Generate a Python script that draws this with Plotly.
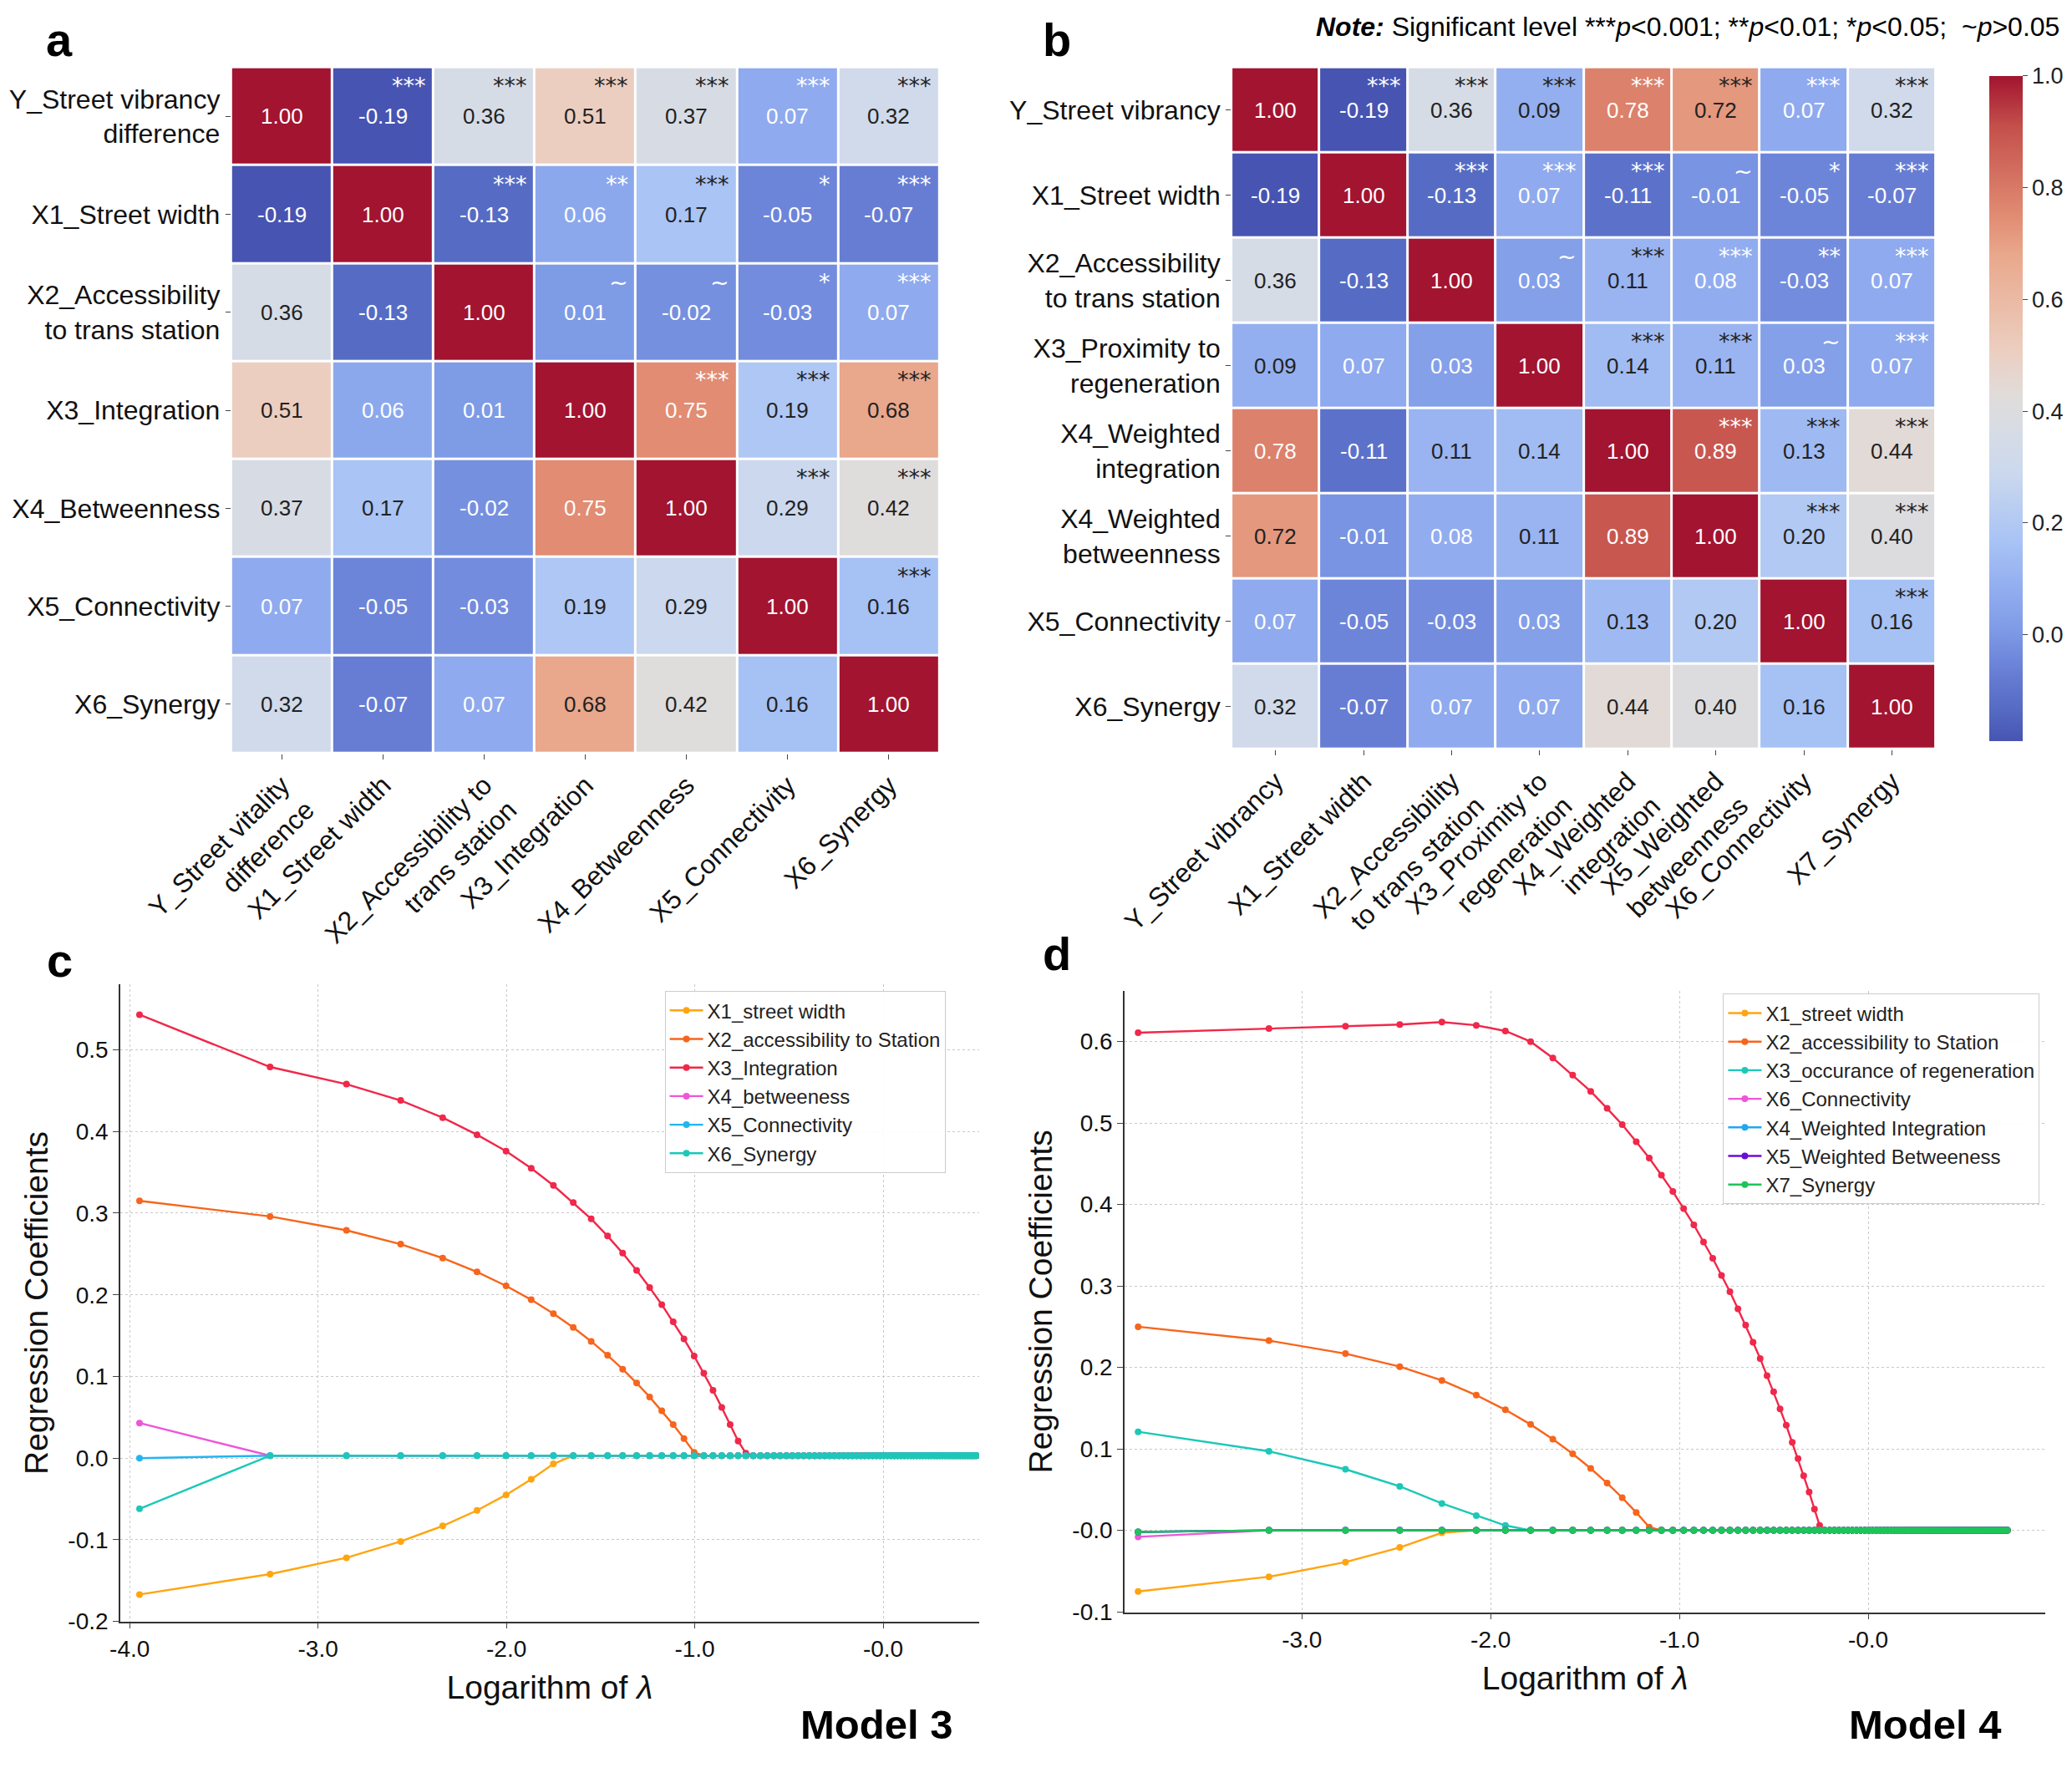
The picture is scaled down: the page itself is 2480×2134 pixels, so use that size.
import numpy as np
import plotly.graph_objects as go

# ---------------- data ----------------
a_labels_x = ["Y_Street vitality<br>difference", "X1_Street width", "X2_Accessibility to<br>trans station",
              "X3_Integration", "X4_Betweenness", "X5_Connectivity", "X6_Synergy"]
a_labels_y = ["Y_Street vibrancy<br>difference", "X1_Street width", "X2_Accessibility<br>to trans station",
              "X3_Integration", "X4_Betweenness", "X5_Connectivity", "X6_Synergy"]
a_vals = [
    [1.00, -0.19, 0.36, 0.51, 0.37, 0.07, 0.32],
    [-0.19, 1.00, -0.13, 0.06, 0.17, -0.05, -0.07],
    [0.36, -0.13, 1.00, 0.01, -0.02, -0.03, 0.07],
    [0.51, 0.06, 0.01, 1.00, 0.75, 0.19, 0.68],
    [0.37, 0.17, -0.02, 0.75, 1.00, 0.29, 0.42],
    [0.07, -0.05, -0.03, 0.19, 0.29, 1.00, 0.16],
    [0.32, -0.07, 0.07, 0.68, 0.42, 0.16, 1.00],
]
a_sig = [
    ["", "***", "***", "***", "***", "***", "***"],
    ["", "", "***", "**", "***", "*", "***"],
    ["", "", "", "~", "~", "*", "***"],
    ["", "", "", "", "***", "***", "***"],
    ["", "", "", "", "", "***", "***"],
    ["", "", "", "", "", "", "***"],
    ["", "", "", "", "", "", ""],
]
b_labels_x = ["Y_Street vibrancy", "X1_Street width", "X2_Accessibility<br>to trans station",
              "X3_Proximity to<br>regeneration", "X4_Weighted<br>integration", "X5_Weighted<br>betweenness",
              "X6_Connectivity", "X7_Synergy"]
b_labels_y = ["Y_Street vibrancy", "X1_Street width", "X2_Accessibility<br>to trans station",
              "X3_Proximity to<br>regeneration", "X4_Weighted<br>integration", "X4_Weighted<br>betweenness",
              "X5_Connectivity", "X6_Synergy"]
b_vals = [
    [1.00, -0.19, 0.36, 0.09, 0.78, 0.72, 0.07, 0.32],
    [-0.19, 1.00, -0.13, 0.07, -0.11, -0.01, -0.05, -0.07],
    [0.36, -0.13, 1.00, 0.03, 0.11, 0.08, -0.03, 0.07],
    [0.09, 0.07, 0.03, 1.00, 0.14, 0.11, 0.03, 0.07],
    [0.78, -0.11, 0.11, 0.14, 1.00, 0.89, 0.13, 0.44],
    [0.72, -0.01, 0.08, 0.11, 0.89, 1.00, 0.20, 0.40],
    [0.07, -0.05, -0.03, 0.03, 0.13, 0.20, 1.00, 0.16],
    [0.32, -0.07, 0.07, 0.07, 0.44, 0.40, 0.16, 1.00],
]
b_sig = [
    ["", "***", "***", "***", "***", "***", "***", "***"],
    ["", "", "***", "***", "***", "~", "*", "***"],
    ["", "", "", "~", "***", "***", "**", "***"],
    ["", "", "", "", "***", "***", "~", "***"],
    ["", "", "", "", "", "***", "***", "***"],
    ["", "", "", "", "", "", "***", "***"],
    ["", "", "", "", "", "", "", "***"],
    ["", "", "", "", "", "", "", ""],
]

# Lasso paths (lambda grid step and count)
c_lambda_step, c_n = 0.0193, 85
d_lambda_step, d_n = 0.0209, 100
c_names = ["X1_street width", "X2_accessibility to Station", "X3_Integration",
           "X4_betweeness", "X5_Connectivity", "X6_Synergy"]
c_colors = ["#ffa510", "#f7651c", "#f0284a", "#ee55d8", "#22b5f0", "#1cc8b8"]
c_x1 = [-0.167, -0.142, -0.122, -0.102, -0.083, -0.064, -0.045, -0.026, -0.007]
c_x2 = [0.315, 0.296, 0.279, 0.262, 0.245, 0.228, 0.211, 0.194, 0.177, 0.160, 0.143, 0.126,
        0.109, 0.092, 0.075, 0.058, 0.041, 0.024, 0.007]
c_x3 = [0.543, 0.479, 0.458, 0.438, 0.417, 0.396, 0.376, 0.355, 0.334, 0.313, 0.293, 0.272,
        0.251, 0.230, 0.209, 0.188, 0.167, 0.146, 0.125, 0.104, 0.083, 0.062, 0.041, 0.021, 0.006]
c_x4 = [0.043]
c_x5 = [0.000]
c_x6 = [-0.062]
c_tail = 0.003

d_names = ["X1_street width", "X2_accessibility to Station", "X3_occurance of regeneration",
           "X6_Connectivity", "X4_Weighted Integration", "X5_Weighted Betweeness", "X7_Synergy"]
d_colors = ["#ffa510", "#f7651c", "#1cc8b8", "#ee55d8", "#22a8f0", "#6a0dd8", "#1ec45a"]
d_x1 = [-0.075, -0.057, -0.039, -0.021, -0.003]
d_x2 = [0.250, 0.233, 0.217, 0.201, 0.184, 0.166, 0.148, 0.130, 0.112, 0.094, 0.076, 0.058,
        0.040, 0.022, 0.004]
d_x3occ = [0.121, 0.097, 0.075, 0.054, 0.033, 0.018, 0.006]
d_x6 = [-0.008]
d_x4 = [-0.002]
d_x5 = [-0.002]
d_x7 = [-0.002]
d_x3int = [0.611, 0.616, 0.619, 0.621, 0.624, 0.620, 0.613, 0.600, 0.580, 0.559, 0.539, 0.518,
           0.498, 0.477, 0.457, 0.436, 0.416, 0.395, 0.375, 0.354, 0.334, 0.313, 0.293, 0.272,
           0.252, 0.231, 0.211, 0.190, 0.170, 0.149, 0.129, 0.108, 0.088, 0.067, 0.047, 0.026, 0.006]
d_tail = 0.0

# ---------------- figure ----------------
FONT = "Liberation Sans, Arial, sans-serif"
SC = 2480 / 1568.0          # reference pixels per displayed unit
PAD = 8                     # page body margin
FW, FH = 2464, 2118
def fx(px): return (px * SC - PAD) / FW
def fy(py): return 1 - (py * SC - PAD) / FH

cmap = [
    [0.0, "rgb(71,84,178)"], [0.05, "rgb(86,108,196)"], [0.10, "rgb(103,125,212)"],
    [0.143, "rgb(118,144,224)"], [0.168, "rgb(126,155,230)"], [0.218, "rgb(143,170,238)"],
    [0.30, "rgb(168,195,245)"], [0.403, "rgb(203,216,238)"], [0.462, "rgb(214,220,230)"],
    [0.52, "rgb(224,220,218)"], [0.588, "rgb(236,206,192)"], [0.73, "rgb(233,168,140)"],
    [0.79, "rgb(225,140,115)"], [0.924, "rgb(196,80,75)"], [1.0, "rgb(162,20,48)"],
]

fig = go.Figure()
annotations = []

def add_heat(vals, sig, xa, ya, show_cb):
    n = len(vals)
    fig.add_trace(go.Heatmap(
        z=vals, x=list(range(n)), y=list(range(n)), xaxis=xa, yaxis=ya,
        colorscale=cmap, zmin=-0.19, zmax=1.0, xgap=3, ygap=3,
        showscale=show_cb, hoverinfo="skip",
        colorbar=dict(x=fx(1499), xanchor="left", y=fy(567), yanchor="bottom",
                      len=(567 - 51) * SC / FH, thickness=40, outlinewidth=0,
                      tickvals=[0, 0.2, 0.4, 0.6, 0.8, 1.0],
                      ticktext=["0.0", "0.2", "0.4", "0.6", "0.8", "1.0"],
                      ticks="outside", ticklen=6, tickfont=dict(size=27, family=FONT, color="#222")),
    ))
    for i in range(n):
        for j in range(n):
            v = vals[i][j]
            col = "white" if (v < 0.085 or v > 0.73) else "#222"
            annotations.append(dict(x=j, y=i, xref=xa, yref=ya, text=f"{v:.2f}", showarrow=False,
                                    font=dict(size=26, family=FONT, color=col)))
            if sig[i][j]:
                annotations.append(dict(x=j + 0.44, y=i - 0.46, xref=xa, yref=ya, text=sig[i][j],
                                        showarrow=False, xanchor="right", yanchor="top",
                                        font=dict(size=27, family="DejaVu Sans, sans-serif", color=col)))

add_heat(a_vals, a_sig, "x", "y", False)
add_heat(b_vals, b_sig, "x2", "y2", True)

def heat_axes(labels_x, labels_y, dx, dy, ax, ay):
    n = len(labels_x)
    xa = dict(domain=dx, range=[-0.5, n - 0.5], tickvals=list(range(n)), ticktext=labels_x,
              tickangle=-45, ticks="outside", ticklen=6, showgrid=False, zeroline=False,
              automargin=False, anchor=ay,
              tickfont=dict(size=32, family=FONT, color="#111"))
    ya = dict(domain=dy, range=[n - 0.5, -0.5], tickvals=list(range(n)), ticktext=labels_y,
              ticks="outside", ticklen=6, showgrid=False, zeroline=False,
              automargin=False, anchor=ax,
              tickfont=dict(size=32, family=FONT, color="#111"))
    return xa, ya

xa1, ya1 = heat_axes(a_labels_x, a_labels_y, [fx(175), fx(711)], [fy(570), fy(51)], "x", "y")
xa2, ya2 = heat_axes(b_labels_x, b_labels_y, [fx(932), fx(1465)], [fy(567), fy(51)], "x2", "y2")

def full(seq, n, tail):
    return list(seq) + [tail] * (n - len(seq))

lx_c = np.log(np.arange(1, c_n + 1) * c_lambda_step)
lx_d = np.log(np.arange(1, d_n + 1) * d_lambda_step)

for name, col, seq in zip(c_names, c_colors, [c_x1, c_x2, c_x3, c_x4, c_x5, c_x6]):
    fig.add_trace(go.Scatter(x=lx_c, y=full(seq, c_n, c_tail), xaxis="x3", yaxis="y3", name=name,
                             mode="lines+markers", line=dict(color=col, width=2.4),
                             marker=dict(size=8, color=col), legend="legend"))
fig.add_trace(go.Scatter(x=lx_d, y=full(d_x3int, d_n, d_tail), xaxis="x4", yaxis="y4",
                         name="X3_Integration", showlegend=False, mode="lines+markers",
                         line=dict(color="#f0284a", width=2.4), marker=dict(size=8, color="#f0284a")))
for name, col, seq in zip(d_names, d_colors, [d_x1, d_x2, d_x3occ, d_x6, d_x4, d_x5, d_x7]):
    fig.add_trace(go.Scatter(x=lx_d, y=full(seq, d_n, d_tail), xaxis="x4", yaxis="y4", name=name,
                             mode="lines+markers", line=dict(color=col, width=2.4),
                             marker=dict(size=8, color=col), legend="legend2"))

xt = [-4, -3, -2, -1, 0]
xtt = ["-4.0", "-3.0", "-2.0", "-1.0", "-0.0"]
def line_axes(dx, dy, xr, yr, yt, ytt, anchor_x, anchor_y):
    common = dict(showline=True, linecolor="#333", linewidth=1.5, ticks="outside", ticklen=7,
                  showgrid=True, gridcolor="#c8c8c8", griddash="dot", gridwidth=1, zeroline=False,
                  automargin=False, tickfont=dict(size=28, family=FONT, color="#111"))
    xa = dict(domain=dx, range=xr, tickvals=xt, ticktext=xtt, anchor=anchor_y,
              title=dict(text="Logarithm of <i>λ</i>", font=dict(size=39, family=FONT, color="#111"), standoff=18),
              **common)
    ya = dict(domain=dy, range=yr, tickvals=yt, ticktext=ytt, anchor=anchor_x,
              title=dict(text="Regression Coefficients", font=dict(size=39, family=FONT, color="#111"), standoff=12),
              **common)
    return xa, ya

c_yt = [-0.2, -0.1, 0.0, 0.1, 0.2, 0.3, 0.4, 0.5]
d_yt = [-0.1, 0.0, 0.1, 0.2, 0.3, 0.4, 0.5, 0.6]
xa3, ya3 = line_axes([fx(91), fx(741)], [fy(1227), fy(745)], [-4.05, 0.51], [-0.2, 0.58],
                     c_yt, ["-0.2", "-0.1", "0.0", "0.1", "0.2", "0.3", "0.4", "0.5"], "x3", "y3")
xa4, ya4 = line_axes([fx(851), fx(1548)], [fy(1220), fy(750)], [-3.94, 0.94], [-0.1005, 0.662],
                     d_yt, ["-0.1", "-0.0", "0.1", "0.2", "0.3", "0.4", "0.5", "0.6"], "x4", "y4")

legend_common = dict(bgcolor="rgba(255,255,255,0.9)", bordercolor="#cccccc", borderwidth=1,
                     font=dict(size=24, family=FONT, color="#222"), xanchor="left", yanchor="top",
                     itemwidth=40, tracegroupgap=0)

def paper_text(text, x, y, size, **kw):
    d = dict(text=text, x=fx(x), y=fy(y), xref="paper", yref="paper", showarrow=False,
             xanchor="center", yanchor="middle", font=dict(size=size, family=FONT, color="black"))
    d.update(kw)
    annotations.append(d)

for lbl, x, y in [("a", 45, 30), ("b", 800, 30), ("c", 45, 727), ("d", 800, 722)]:
    paper_text(f"<b>{lbl}</b>", x, y, 56)
paper_text("<b>Model 3</b>", 663, 1305, 49)
paper_text("<b>Model 4</b>", 1457, 1305, 49)
paper_text("<b><i>Note:</i></b> Significant level ***<i>p</i>&lt;0.001; **<i>p</i>&lt;0.01; *<i>p</i>&lt;0.05;  ~<i>p</i>&gt;0.05",
           1560, 20, 32, xanchor="right")

fig.update_layout(
    width=FW, height=FH, autosize=False, paper_bgcolor="white", plot_bgcolor="white",
    margin=dict(l=0, r=0, t=0, b=0, autoexpand=False), font=dict(family=FONT),
    xaxis=xa1, yaxis=ya1, xaxis2=xa2, yaxis2=ya2, xaxis3=xa3, yaxis3=ya3, xaxis4=xa4, yaxis4=ya4,
    legend=dict(x=fx(503), y=fy(750), **legend_common),
    legend2=dict(x=fx(1304), y=fy(752), **legend_common),
    annotations=annotations,
)
fig.write_html("out.html")
